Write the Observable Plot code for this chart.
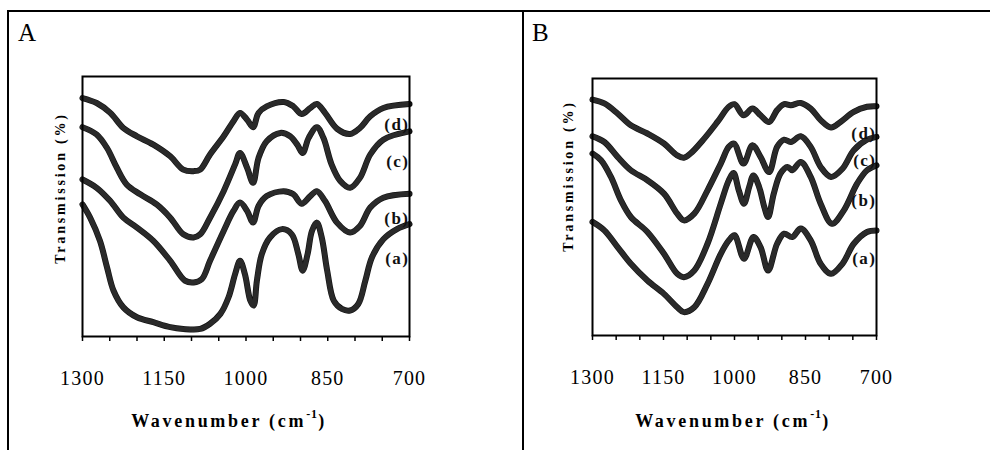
<!DOCTYPE html>
<html><head><meta charset="utf-8">
<script src="https://cdn.jsdelivr.net/npm/d3@7"></script>
<script src="https://cdn.jsdelivr.net/npm/@observablehq/plot@0.6"></script>
<style>
body{margin:0;background:#fff;}
#wrap{position:relative;width:990px;height:450px;overflow:hidden;background:#fff;font-family:"Liberation Serif","Times New Roman",serif;}
#wrap svg, #wrap svg text{font-family:"Liberation Serif","Times New Roman",serif !important;}
.hl{position:absolute;left:7px;top:10px;width:983px;height:2px;background:#000;}
.vl{position:absolute;top:10px;width:2px;height:440px;background:#000;}
.panel{position:absolute;top:0;}
.letter{position:absolute;font-size:25px;line-height:25px;top:20px;color:#000;}
svg [aria-label="x-axis tick label"] text{letter-spacing:1.2px;}
</style></head>
<body>
<div id="wrap">
  <div class="hl"></div>
  <div class="vl" style="left:7px"></div>
  <div class="vl" style="left:522px"></div>
  <div class="letter" style="left:18px">A</div>
  <div class="letter" style="left:532px">B</div>
  <div class="panel" id="pA" style="left:0px"></div>
  <div class="panel" id="pB" style="left:525px"></div>
</div>
<script>
// ---------- Panel A ----------
const wA_a = [1300,1286,1268,1255,1243,1225,1200,1170,1139,1115,1084,1066,1047,1032,1020,1011,1002,992,986,980,971,956,934,916,904,896,887,879,870,861,851,839,824,809,794,781,769,748,723,700];
const tA_a = [50.8,45.7,36.8,26.6,17.6,11.2,7.4,5.5,3.6,2.9,2.9,4.9,8.7,15.1,24.0,29.1,24.0,13.8,11.9,21.5,31.7,38.1,41.3,39.3,31.7,25.3,31.7,40.6,43.8,38.1,25.3,13.8,10.6,10.0,12.5,21.5,30.4,37.4,41.3,43.2];

const wA_b = [1300,1274,1249,1225,1200,1170,1139,1112,1096,1081,1066,1041,1023,1011,998,987,977,962,931,913,898,882,870,855,833,809,791,772,748,700];
const tA_b = [60.4,57.2,52.1,45.7,41.9,36.8,29.1,21.5,20.8,22.1,29.1,40.6,48.3,51.5,48.3,43.8,50.2,54.0,55.9,54.7,51.1,54.0,55.9,52.1,43.8,40.0,42.5,49.6,53.4,54.9];

const wA_c = [1300,1274,1255,1237,1219,1194,1164,1139,1115,1096,1084,1066,1041,1020,1011,998,987,977,962,937,919,906,896,885,870,858,843,827,809,791,772,748,700];
const tA_c = [80.5,77.7,72.5,64.9,58.5,54.7,50.8,45.7,39.3,38.1,39.3,45.7,55.9,66.2,70.6,64.9,59.1,68.7,75.1,78.3,77.0,73.8,70.6,76.4,80.5,76.4,66.2,59.8,57.2,61.0,70.0,75.7,78.9];

const wA_d = [1300,1274,1249,1225,1200,1170,1139,1115,1096,1084,1066,1041,1023,1011,998,987,977,962,931,913,898,882,870,855,833,809,791,772,748,700];
const tA_d = [91.7,89.8,86.0,80.2,77.0,73.8,69.3,64.2,63.6,64.2,70.0,77.0,82.8,86.0,83.4,80.5,86.0,88.5,90.2,88.5,85.6,87.9,89.4,86.0,79.9,77.9,80.2,84.7,87.9,89.4];

// ---------- Panel B ----------
const wB_a = [1300,1275,1247,1219,1184,1149,1121,1107,1085,1057,1029,1012,1000,980,960,945,929,910,895,878,860,839,818,796,772,748,720,700];
const tB_a = [44.2,40.9,34.4,27.9,21.4,16.2,11.0,9.1,11.0,20.1,31.8,37.0,39.0,29.9,38.3,34.4,25.3,35.7,39.6,38.3,41.6,37.0,27.9,24.0,27.9,35.7,40.3,40.9];

const wB_b = [1300,1282,1261,1240,1219,1184,1149,1121,1107,1085,1057,1029,1012,1002,991,980,969,960,948,937,929,917,903,888,878,860,839,818,794,769,741,720,700];
const tB_b = [70.8,68.2,61.7,52.6,46.1,40.3,31.8,24.0,22.7,25.3,35.7,51.3,60.4,63.2,56.5,51.3,57.8,62.3,57.8,50.0,46.1,55.2,63.0,65.6,64.3,67.5,61.7,51.3,43.5,48.7,59.1,64.3,66.2];

const wB_c = [1300,1275,1247,1219,1184,1149,1121,1107,1085,1057,1029,1012,1001,981,962,945,927,910,895,881,860,839,818,796,772,748,720,700];
const tB_c = [77.5,75.3,69.5,64.3,60.4,55.2,47.4,44.8,47.4,56.5,66.9,73.4,74.7,66.9,74.0,69.5,63.6,73.4,76.2,75.3,77.5,73.4,65.6,61.7,64.9,72.1,76.2,77.3];

const wB_d = [1300,1275,1247,1219,1184,1149,1121,1107,1093,1064,1036,1012,1000,981,962,945,927,910,895,881,860,839,818,796,776,748,720,700];
const tB_d = [91.8,90.3,86.4,81.8,78.6,74.7,70.1,69.2,70.8,76.6,83.1,89.0,90.0,85.7,88.3,85.7,83.1,87.7,90.0,89.6,90.5,88.3,83.8,80.9,83.1,87.0,89.0,89.2];

// ---------- Labels & ticks ----------
const seriesNames = ["(a)", "(b)", "(c)", "(d)"];
const labelA = [29.9, 45.2, 67.4, 81.6];
const labelB = [30.0, 52.6, 68.2, 78.7];
const xTicks = [1300,1250,1200,1150,1100,1050,1000,950,900,850,800,750,700];
const xLabeled = [1300,1150,1000,850,700];
const xTitle = "Wavenumber (cm";
const xTitleSup = "-1";
const yTitle = "Transmission (%)";

function toRows(ws, ts) { return ws.map((w, i) => ({w, t: ts[i]})); }

function lineMarks(ws, ts) {
  const rows = toRows(ws, ts);
  return [
    Plot.line(rows, {x: "w", y: "t", curve: "catmull-rom", stroke: "#0d0d0d", strokeWidth: 6}),
    Plot.line(rows, {x: "w", y: "t", curve: "catmull-rom", stroke: "#ffffff", strokeOpacity: 0.12, strokeWidth: 5, strokeDasharray: "0.7,1.8"})
  ];
}

function panel(series, labelVals, o) {
  const labels = seriesNames.map((s, i) => ({w: 700, t: labelVals[i], s}));
  const svg = Plot.plot({
    width: o.width, height: 450,
    marginLeft: o.ml, marginRight: o.mr, marginTop: o.mt, marginBottom: o.mb,
    x: {domain: [1300, 700], label: null},
    y: {domain: [0, 100], axis: null},
    style: {fontFamily: "Liberation Serif, serif", background: "transparent", overflow: "visible", color: "#000"},
    marks: [
      ...series.flatMap(([ws, ts]) => lineMarks(ws, ts)),
      Plot.frame({stroke: "#000", strokeWidth: 2}),
      Plot.axisX({ticks: xTicks, tickSize: 5, tickPadding: 29, strokeWidth: 1.5,
        tickFormat: d => xLabeled.includes(d) ? String(d) : "", fontSize: 20, label: null}),
      Plot.text(labels, {x: "w", y: "t", text: "s", textAnchor: "end", fontWeight: "bold", fontSize: 17, fill: "#111"})
    ]
  });
  const s = d3.select(svg);
  s.selectAll('g[aria-label="text"] text').attr("letter-spacing", "1.5px");
  const t = s.append("text").attr("x", o.tx).attr("y", 427).attr("text-anchor", "middle")
    .attr("font-weight", "bold").attr("font-size", 18).attr("letter-spacing", "2.7px").attr("fill", "#000");
  t.append("tspan").text(xTitle);
  t.append("tspan").attr("font-size", 12).attr("dy", -9).attr("letter-spacing", "1px").text(xTitleSup);
  t.append("tspan").attr("dy", 9).text(")");
  s.append("text").attr("transform", `translate(${o.yx},${o.yy}) rotate(-90)`)
    .attr("text-anchor", "middle").attr("dy", "0.35em")
    .attr("font-weight", "bold").attr("font-size", 14).attr("letter-spacing", "2.8px").attr("fill", "#000")
    .text(yTitle);
  return svg;
}

document.getElementById("pA").appendChild(panel(
  [[wA_a, tA_a], [wA_b, tA_b], [wA_c, tA_c], [wA_d, tA_d]], labelA,
  {width: 520, ml: 82, mr: 111, mt: 76, mb: 114, tx: 229, yx: 60, yy: 188}
));
document.getElementById("pB").appendChild(panel(
  [[wB_a, tB_a], [wB_b, tB_b], [wB_c, tB_c], [wB_d, tB_d]], labelB,
  {width: 465, ml: 67, mr: 114, mt: 78, mb: 115, tx: 208, yx: 43, yy: 176}
));
</script>
</body></html>
